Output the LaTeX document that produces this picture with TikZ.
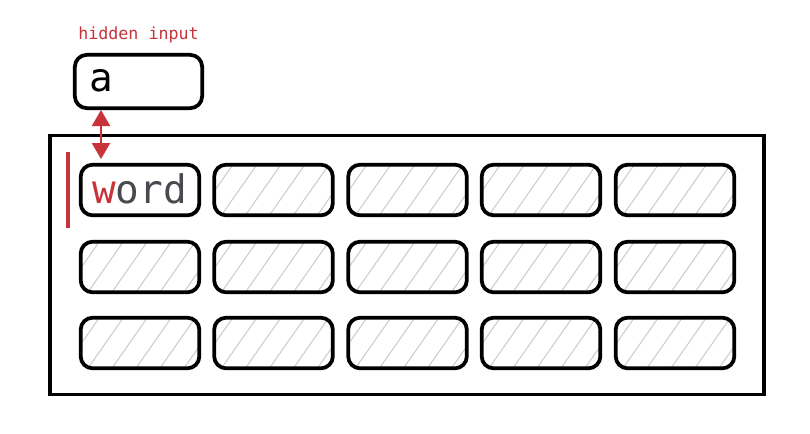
\documentclass[tikz,border=0pt]{standalone}
\usepackage{fontspec}
\setmonofont{DejaVu Sans Mono}
\usetikzlibrary{arrows.meta}
\definecolor{exred}{HTML}{C8323A}
\definecolor{exgray}{HTML}{474B50}
\definecolor{hatchgray}{HTML}{C8C8C8}
\tikzset{
  wbox/.style={draw=black, line width=2.8pt, rounded corners=9pt, fill=white,
    minimum width=89pt, minimum height=38pt, inner sep=0pt},
  hatched/.style={wbox, path picture={
      \foreach \k in {-4,...,6}{
        \draw[hatchgray, line width=0.7pt]
          ([xshift=\k*18pt+4pt, yshift=-2pt]path picture bounding box.south west) -- ++(55:70pt);
      }}},
  frame/.style={draw=black, line width=2.3pt},
  redarrow/.style={draw=exred, line width=1.6pt, {Triangle[width=13.5pt,length=12pt]}-{Triangle[width=13.5pt,length=12pt]}},
  bigtext/.style={font=\ttfamily\fontsize{29.5}{31}\selectfont, inner sep=0pt, anchor=west},
  labeltext/.style={font=\ttfamily\fontsize{12.5}{14}\selectfont, text=exred, inner sep=0pt, anchor=west}
}
\begin{document}
\begin{tikzpicture}[x=0.75pt, y=-0.75pt]
\useasboundingbox (0,0) rectangle (810,433);
\fill[white] (0,0) rectangle (810,433);
% outer frame
\node[frame, minimum width=535.5pt, minimum height=194.5pt, inner sep=0pt] (outer) at (407,265) {};
% hidden input
\node[labeltext] (lbl) at (78,35) {hidden input};
\node[wbox, minimum width=95.5pt, minimum height=40pt] (hin) at (138.5,81.5) {};
\node[bigtext] (atext) at (89,81) {a};
% boxes
\node[wbox] (b11) at (140,190) {};
\node[bigtext] (wtext) at (92,189) {\textcolor{exred}{w}\textcolor{exgray}{ord}};
\foreach \c/\x in {2/273.5,3/407.5,4/541,5/675}{
  \node[hatched] (b1\c) at (\x,190) {};
}
\foreach \r/\y in {2/267,3/343}{
  \foreach \c/\x in {1/140,2/273.5,3/407.5,4/541,5/675}{
    \node[hatched] (b\r\c) at (\x,\y) {};
  }
}
% red cursor bar
\coordinate (bartop) at (68,152);
\coordinate (barbot) at (68,228);
\draw[exred, line width=2.4pt] (bartop) -- (barbot);
% arrow
\coordinate (arrtop) at (101,110);
\coordinate (arrbot) at (101,159);
\draw[redarrow] (arrtop) -- (arrbot);
\end{tikzpicture}
\end{document}
